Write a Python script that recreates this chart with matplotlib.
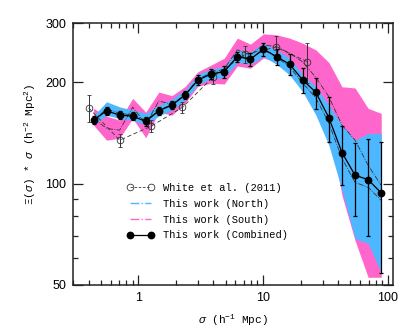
import matplotlib
matplotlib.use('Agg')
import matplotlib.pyplot as plt
from matplotlib.lines import Line2D
from matplotlib.ticker import FixedLocator, FixedFormatter, NullFormatter, LogLocator, FuncFormatter

# ---------------- data ----------------
sigma = [0.438, 0.557, 0.709, 0.902, 1.148, 1.461, 1.860, 2.37, 3.01, 3.84, 4.88,
         6.22, 7.92, 10.08, 12.83, 16.33, 20.8, 26.5, 33.7, 42.9, 54.6, 69.5, 88.5]

combined = [154.4, 164.6, 159.8, 158.7, 153.0, 164.6, 171.1, 183.3, 203.2, 211.7, 215.1,
            238.4, 234.2, 250.9, 238.4, 226.3, 203.2, 186.7, 156.9, 123.7, 105.9, 102.8, 93.8]
combined_err = [4.3, 4.6, 4.5, 4.4, 4.3, 4.6, 4.8, 5.1, 7.0, 7.4, 9.0,
                8.0, 11.0, 11.0, 13.0, 16.0, 17.0, 20.0, 24.0, 24.5, 26.0, 33.0, 39.5]

north = [154.4, 166.5, 162.0, 159.8, 154.4, 165.4, 171.7, 183.3, 203.9, 211.7, 214.7,
         239.5, 235.5, 249.6, 237.8, 222.1, 199.0, 179.6, 151.3, 118.9, 100.9, 97.5, 89.2]
north_lo = [149.2, 159.8, 156.2, 154.4, 149.2, 159.0, 165.4, 177.1, 197.3, 204.6, 206.4,
            229.4, 226.3, 238.3, 226.3, 210.3, 187.5, 159.8, 130.0, 95.5, 68.7, 66.4, 54.4]
north_hi = [159.0, 175.1, 169.1, 165.4, 161.7, 171.1, 178.3, 189.7, 211.3, 219.1, 222.5,
            249.6, 245.7, 261.4, 249.6, 235.8, 210.3, 194.0, 171.1, 149.2, 134.6, 140.9, 140.9]

south = [156.2, 145.9, 144.2, 168.8, 150.2, 175.9, 172.3, 183.3, 204.6, 213.2, 219.1,
         249.6, 241.2, 258.3, 255.3, 244.0, 229.9, 206.7, 181.2, 149.2, 134.6, 113.4, 98.8]
south_lo = [149.2, 134.6, 136.5, 156.2, 136.9, 163.1, 159.8, 173.5, 195.0, 198.6, 197.7,
            223.6, 220.2, 236.3, 229.9, 217.6, 203.2, 183.3, 149.2, 92.3, 67.8, 52.7, 52.7]
south_hi = [167.4, 158.7, 154.4, 179.2, 163.1, 187.1, 182.6, 194.3, 215.1, 225.2, 235.8,
            270.6, 259.6, 278.6, 276.7, 270.6, 261.4, 249.6, 229.1, 194.0, 192.4, 167.4, 161.7]

white_sigma = [0.40, 0.71, 1.27, 2.26, 4.0, 7.15, 12.7, 22.6]
white = [168.0, 134.6, 148.2, 168.5, 208.0, 242.0, 254.4, 230.4]
white_err = [15.4, 6.2, 6.3, 6.7, 10.0, 14.5, 21.0, 30.7]

y_major = [50, 100, 200, 300]
y_major_labels = ['50', '100', '200', '300']
y_minor = [60, 70, 80, 90]

legend_labels = ['White et al. (2011)', 'This work (North)',
                 'This work (South)', 'This work (Combined)']

# ---------------- style ----------------
plt.rcParams['mathtext.fontset'] = 'custom'
plt.rcParams['mathtext.rm'] = 'Liberation Mono'
plt.rcParams['mathtext.it'] = 'Liberation Mono:italic'
plt.rcParams['mathtext.bf'] = 'Liberation Mono:bold'

PINK = '#FF66CC'
BLUE = '#4DB8FF'
AX = '#222222'

fig = plt.figure(figsize=(4.15, 3.32), dpi=100)
ax = fig.add_axes([0.176, 0.1416, 0.771, 0.789])

ax.fill_between(sigma, south_lo, south_hi, color=PINK, lw=0, zorder=1)
ax.fill_between(sigma, north_lo, north_hi, color=BLUE, lw=0, zorder=2)

ax.plot(sigma, south, color='#333333', lw=0.6, ls='-.', zorder=3)
ax.plot(sigma, north, color='#333333', lw=0.6, ls='-.', zorder=3)

ax.errorbar(white_sigma, white, yerr=white_err, fmt='o', mfc='none', mec='#333333',
            ms=4.8, mew=0.6, ecolor='#333333', elinewidth=0.7, capsize=1.6, capthick=0.7,
            zorder=4)
ax.plot(white_sigma, white, color='#333333', lw=0.6, ls=(0, (5, 3)), zorder=4)

ax.errorbar(sigma, combined, yerr=combined_err, fmt='o', color='black', ms=4.6,
            lw=0.9, elinewidth=0.9, capsize=1.6, capthick=0.9, ls='-', zorder=5)

ax.set_xscale('log')
ax.set_yscale('log')
ax.set_xlim(0.3, 110)
ax.set_ylim(50, 300)

ax.yaxis.set_major_locator(FixedLocator(y_major))
ax.yaxis.set_major_formatter(FixedFormatter(y_major_labels))
ax.yaxis.set_minor_locator(FixedLocator(y_minor))
ax.yaxis.set_minor_formatter(NullFormatter())
ax.xaxis.set_major_locator(LogLocator(base=10))
ax.xaxis.set_major_formatter(FuncFormatter(lambda v, p: '%g' % v))
ax.xaxis.set_minor_locator(LogLocator(base=10, subs=range(2, 10)))
ax.xaxis.set_minor_formatter(NullFormatter())

ax.tick_params(which='both', direction='in', top=True, right=True, color=AX, width=0.9)
ax.tick_params(which='major', length=7, labelsize=9, pad=5)
ax.tick_params(which='minor', length=3.5)
for lab in ax.get_xticklabels() + ax.get_yticklabels():
    lab.set_family('Liberation Sans')
for s in ax.spines.values():
    s.set_color(AX)
    s.set_linewidth(1.1)

ax.set_xlabel(r'$\sigma$ (h$^{-1}$ Mpc)', family='Liberation Mono', fontsize=8, labelpad=6)
ax.set_ylabel(r'$\Xi(\sigma)$ * $\sigma$ (h$^{-2}$ Mpc$^2$)', family='Liberation Mono',
              fontsize=8)
ax.yaxis.set_label_coords(-0.108, 0.536)

handles = [
    Line2D([], [], color='#333333', ls=(0, (3, 2)), lw=0.6, marker='o', mfc='none',
           mec='#333333', ms=4.8, mew=0.6),
    Line2D([], [], color=BLUE, ls='-.', lw=1.0),
    Line2D([], [], color=PINK, ls='-.', lw=1.0),
    Line2D([], [], color='black', ls='-', lw=0.9, marker='o', ms=4.6),
]
leg = ax.legend(handles, legend_labels, loc='upper left', bbox_to_anchor=(0.155, 0.405),
                frameon=False, prop={'family': 'Liberation Mono', 'size': 7.5},
                handlelength=2.6, handletextpad=0.9, labelspacing=0.55, numpoints=2,
                borderaxespad=0)

fig.savefig('out.png', dpi=100)
